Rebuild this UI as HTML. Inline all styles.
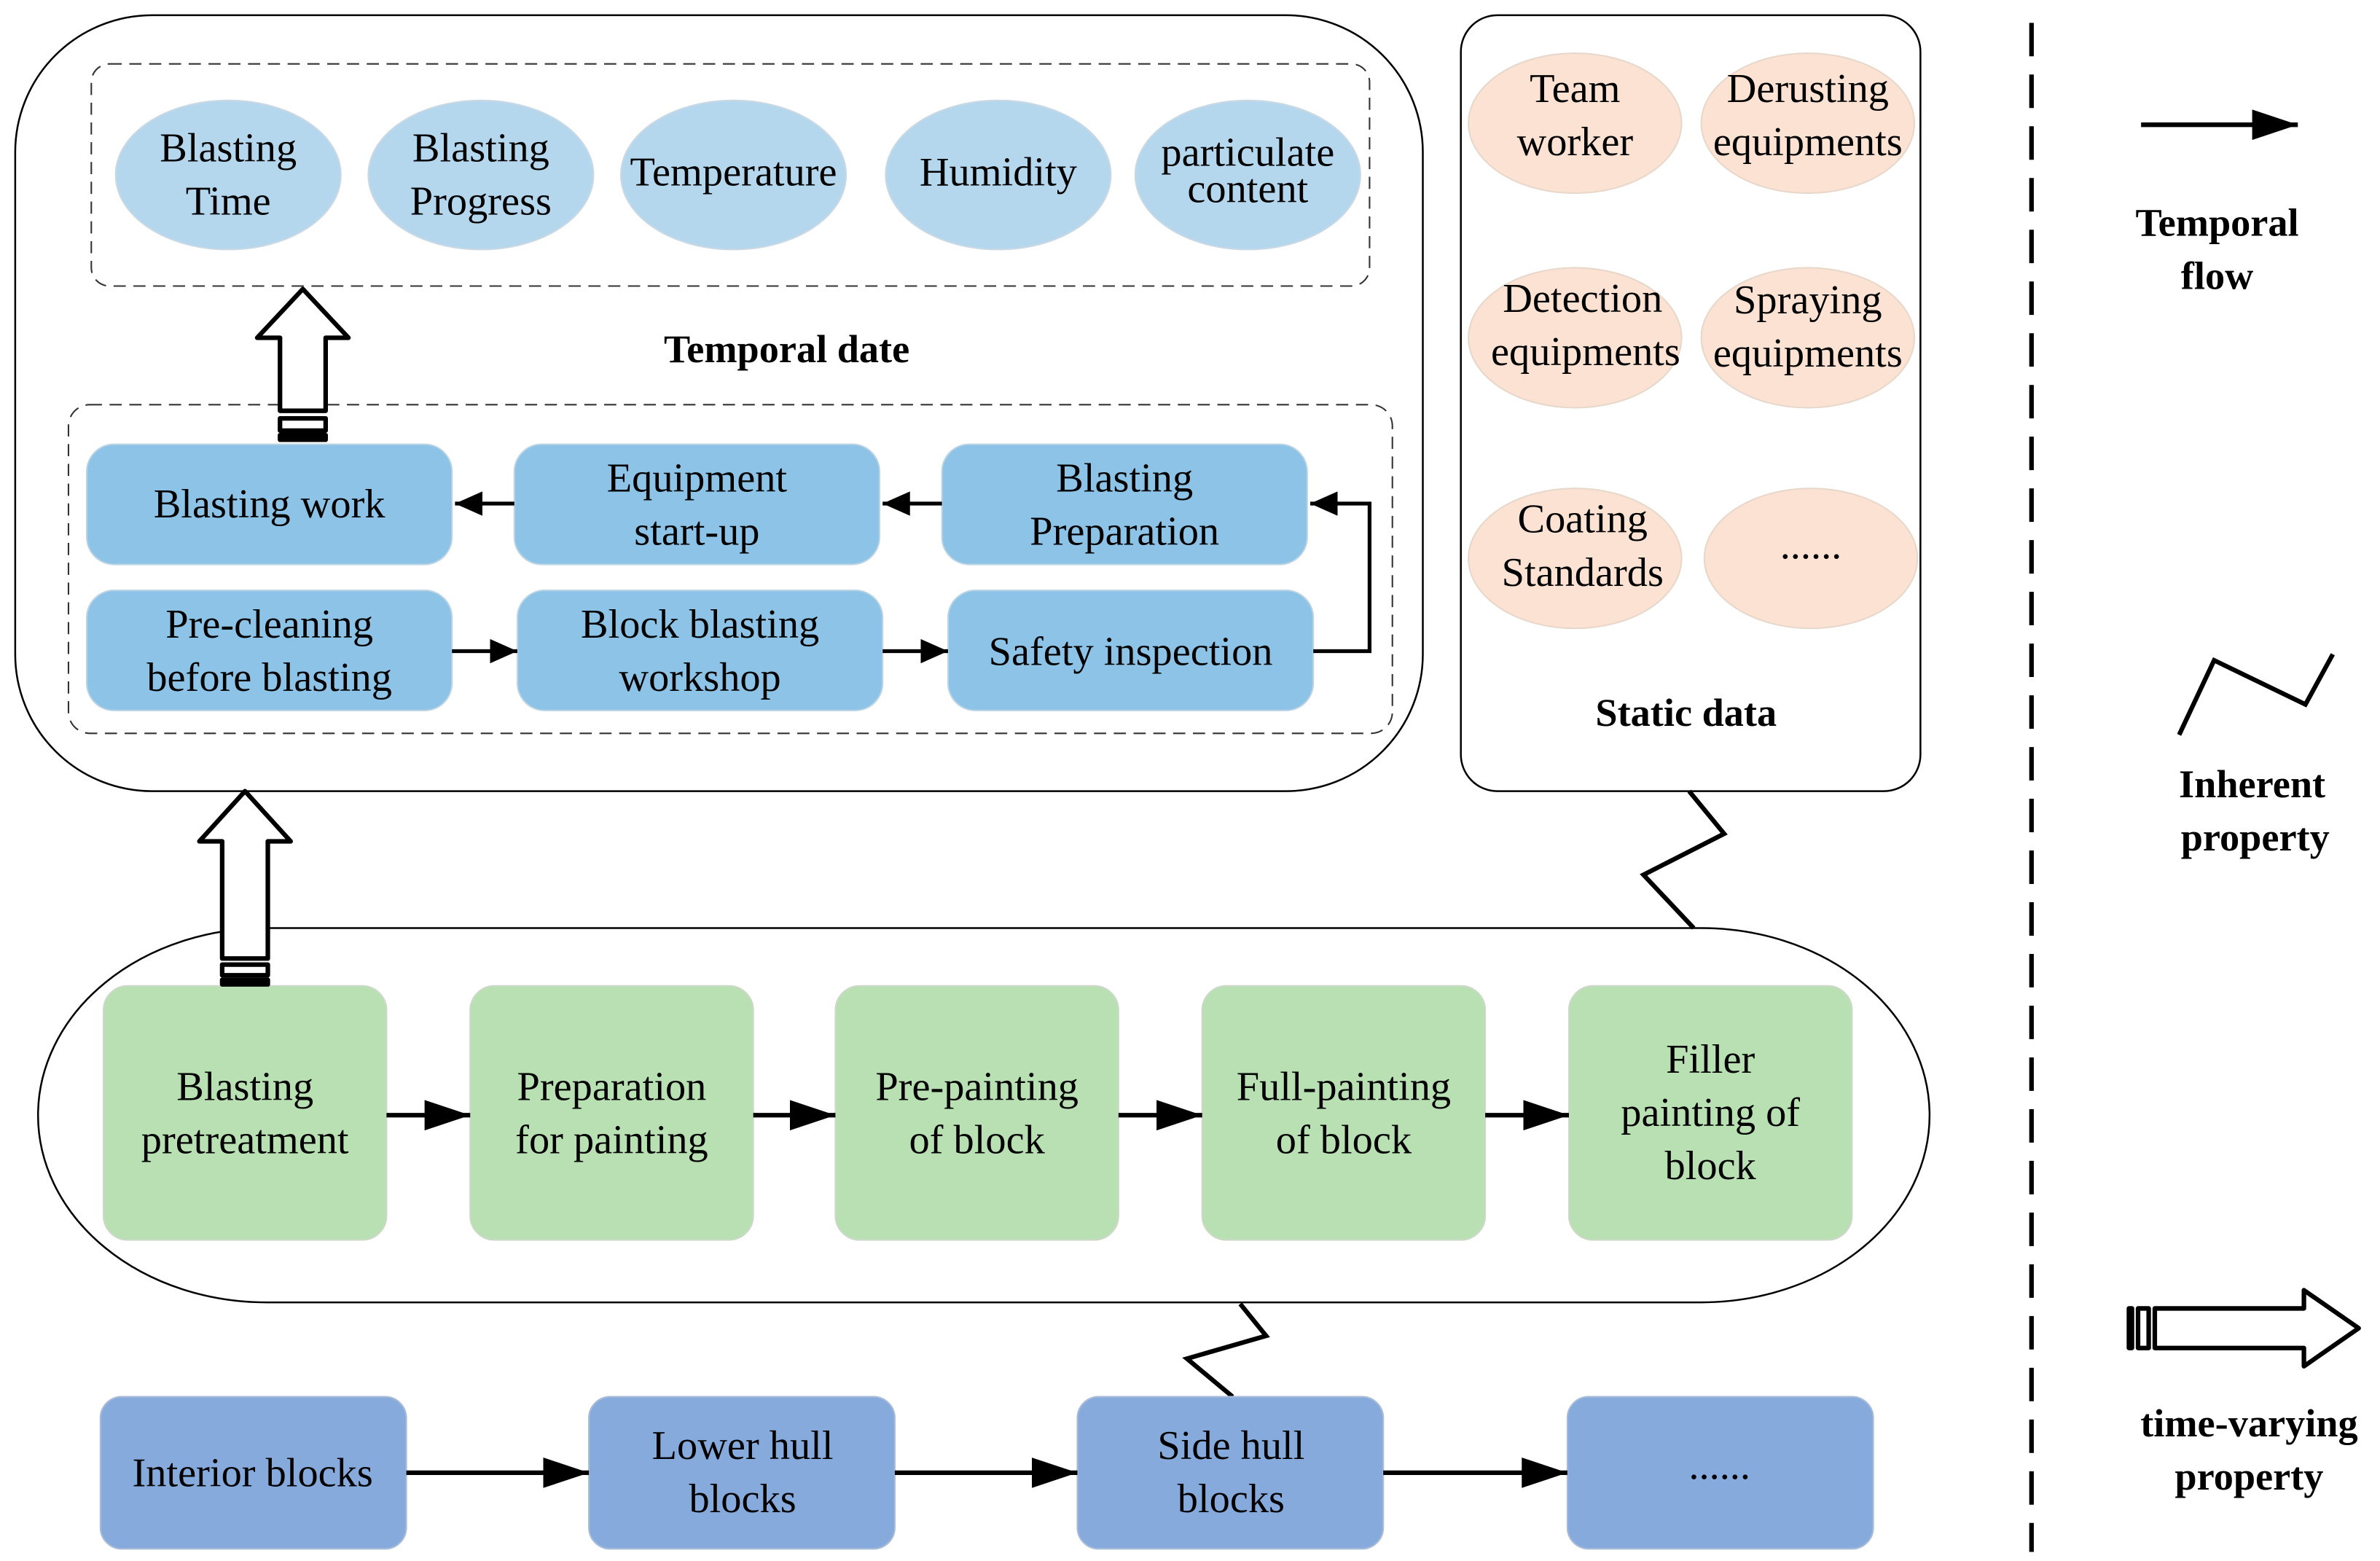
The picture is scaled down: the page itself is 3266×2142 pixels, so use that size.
<!DOCTYPE html>
<html><head><meta charset="utf-8"><style>
html,body{margin:0;padding:0;background:#fff;}
svg{display:block;}
svg text{font-family:"Liberation Serif","Times New Roman","DejaVu Serif",serif;fill:#000;}
.t{font-size:27px;text-anchor:middle;}
.b{font-size:26px;font-weight:bold;text-anchor:middle;}
</style></head><body>
<svg width="3266" height="2142" viewBox="0 0 1564 1026" preserveAspectRatio="none" xmlns="http://www.w3.org/2000/svg" font-family="Liberation Serif, serif">
<defs>
<marker id="ah2" markerWidth="30" markerHeight="20" refX="30" refY="10" orient="auto" markerUnits="userSpaceOnUse" viewBox="0 0 30 20"><path d="M0,0 L30,10 L0,20 Z" fill="#000"/></marker>
<marker id="ah3" markerWidth="18" markerHeight="16" refX="18" refY="8" orient="auto" markerUnits="userSpaceOnUse" viewBox="0 0 18 16"><path d="M0,0 L18,8 L0,16 Z" fill="#000"/></marker>
</defs>
<rect width="1564" height="1026" fill="#fff"/>

<rect x="10" y="10" width="925" height="510" rx="90" ry="90" fill="none" stroke="#000" stroke-width="1.2"/>
<rect x="60" y="42" width="840" height="146" rx="12" fill="none" stroke="#333" stroke-width="1" stroke-dasharray="8,5"/>
<g fill="#b5d7ee" stroke="#c8d8e4" stroke-width="1">
<ellipse cx="150" cy="115" rx="74" ry="49"/>
<ellipse cx="316" cy="115" rx="74" ry="49"/>
<ellipse cx="482" cy="115" rx="74" ry="49"/>
<ellipse cx="656" cy="115" rx="74" ry="49"/>
<ellipse cx="820" cy="115" rx="74" ry="49"/>
</g>
<text class="t" x="150" y="106">Blasting</text><text class="t" x="150" y="141">Time</text>
<text class="t" x="316" y="106">Blasting</text><text class="t" x="316" y="141">Progress</text>
<text class="t" x="482" y="122">Temperature</text>
<text class="t" x="656" y="122">Humidity</text>
<text class="t" x="820" y="109">particulate</text><text class="t" x="820" y="133">content</text>
<text class="b" x="517" y="238">Temporal date</text>

<rect x="45" y="266" width="870" height="216" rx="14" fill="none" stroke="#333" stroke-width="1" stroke-dasharray="8,5"/>
<g fill="#8cc3e6" stroke="#bcd4e4" stroke-width="1">
<rect x="57" y="292" width="240" height="79" rx="18"/>
<rect x="338" y="292" width="240" height="79" rx="18"/>
<rect x="619" y="292" width="240" height="79" rx="18"/>
<rect x="57" y="388" width="240" height="79" rx="18"/>
<rect x="340" y="388" width="240" height="79" rx="18"/>
<rect x="623" y="388" width="240" height="79" rx="18"/>
</g>
<text class="t" x="177" y="340">Blasting work</text>
<text class="t" x="458" y="323">Equipment</text><text class="t" x="458" y="358">start-up</text>
<text class="t" x="739" y="323">Blasting</text><text class="t" x="739" y="358">Preparation</text>
<text class="t" x="177" y="419">Pre-cleaning</text><text class="t" x="177" y="454">before blasting</text>
<text class="t" x="460" y="419">Block blasting</text><text class="t" x="460" y="454">workshop</text>
<text class="t" x="743" y="437">Safety inspection</text>
<g stroke="#000" stroke-width="2.5" fill="none">
<line x1="338" y1="331" x2="299" y2="331" marker-end="url(#ah3)"/>
<line x1="619" y1="331" x2="580" y2="331" marker-end="url(#ah3)"/>
<line x1="297" y1="428" x2="340" y2="428" marker-end="url(#ah3)"/>
<line x1="580" y1="428" x2="623" y2="428" marker-end="url(#ah3)"/>
<polyline points="863,428 900,428 900,331 861,331" marker-end="url(#ah3)"/>
</g>
<g stroke="#000" stroke-width="3" fill="#fff" stroke-linejoin="round">
<path d="M184,270 L184,222 L169,222 L199,190 L229,222 L214,222 L214,270 Z"/>
<rect x="184" y="275" width="30" height="8"/>
<rect x="184" y="286" width="30" height="3"/>
</g>

<rect x="960" y="10" width="302" height="510" rx="24" fill="none" stroke="#000" stroke-width="1.2"/>
<g fill="#fbe2d2" stroke="#e8d8cc" stroke-width="1">
<ellipse cx="1035" cy="81" rx="70" ry="46"/>
<ellipse cx="1188" cy="81" rx="70" ry="46"/>
<ellipse cx="1035" cy="222" rx="70" ry="46"/>
<ellipse cx="1188" cy="222" rx="70" ry="46"/>
<ellipse cx="1035" cy="367" rx="70" ry="46"/>
<ellipse cx="1190" cy="367" rx="70" ry="46"/>
</g>
<text class="t" x="1035" y="67">Team</text><text class="t" x="1035" y="102">worker</text>
<text class="t" x="1188" y="67">Derusting</text><text class="t" x="1188" y="102">equipments</text>
<text class="t" x="1040" y="205">Detection</text><text class="t" x="1042" y="240">equipments</text>
<text class="t" x="1188" y="206">Spraying</text><text class="t" x="1188" y="241">equipments</text>
<text class="t" x="1040" y="350">Coating</text><text class="t" x="1040" y="385">Standards</text>
<text class="t" x="1190" y="367">......</text>
<text class="b" x="1108" y="477">Static data</text>

<polyline points="1113,610 1080,575 1133,548 1110,520" fill="none" stroke="#000" stroke-width="3"/>

<rect x="25" y="610" width="1243" height="246" rx="150" ry="123" fill="none" stroke="#000" stroke-width="1.2"/>
<g fill="#b9e0b2" stroke="#ccd8c8" stroke-width="1">
<rect x="68" y="648" width="186" height="167" rx="16"/>
<rect x="309" y="648" width="186" height="167" rx="16"/>
<rect x="549" y="648" width="186" height="167" rx="16"/>
<rect x="790" y="648" width="186" height="167" rx="16"/>
<rect x="1031" y="648" width="186" height="167" rx="16"/>
</g>
<text class="t" x="161" y="723">Blasting</text><text class="t" x="161" y="758">pretreatment</text>
<text class="t" x="402" y="723">Preparation</text><text class="t" x="402" y="758">for painting</text>
<text class="t" x="642" y="723">Pre-painting</text><text class="t" x="642" y="758">of block</text>
<text class="t" x="883" y="723">Full-painting</text><text class="t" x="883" y="758">of block</text>
<text class="t" x="1124" y="705">Filler</text><text class="t" x="1124" y="740">painting of</text><text class="t" x="1124" y="775">block</text>
<g stroke="#000" stroke-width="3" fill="none">
<line x1="254" y1="733" x2="309" y2="733" marker-end="url(#ah2)"/>
<line x1="495" y1="733" x2="549" y2="733" marker-end="url(#ah2)"/>
<line x1="735" y1="733" x2="790" y2="733" marker-end="url(#ah2)"/>
<line x1="976" y1="733" x2="1031" y2="733" marker-end="url(#ah2)"/>
</g>
<g stroke="#000" stroke-width="3" fill="#fff" stroke-linejoin="round">
<path d="M146,630 L146,553 L131,553 L161,520 L191,553 L176,553 L176,630 Z"/>
<rect x="146" y="634" width="30" height="7"/>
<rect x="146" y="644" width="30" height="3"/>
</g>

<polyline points="810,918 780,893 832,878 815,857" fill="none" stroke="#000" stroke-width="3"/>

<g fill="#87aadd" stroke="#a8bcd8" stroke-width="1">
<rect x="66" y="918" width="201" height="100" rx="14"/>
<rect x="387" y="918" width="201" height="100" rx="14"/>
<rect x="708" y="918" width="201" height="100" rx="14"/>
<rect x="1030" y="918" width="201" height="100" rx="14"/>
</g>
<text class="t" x="166" y="977">Interior blocks</text>
<text class="t" x="488" y="959">Lower hull</text><text class="t" x="488" y="994">blocks</text>
<text class="t" x="809" y="959">Side hull</text><text class="t" x="809" y="994">blocks</text>
<text class="t" x="1130" y="972">......</text>
<g stroke="#000" stroke-width="3" fill="none">
<line x1="267" y1="968" x2="387" y2="968" marker-end="url(#ah2)"/>
<line x1="588" y1="968" x2="708" y2="968" marker-end="url(#ah2)"/>
<line x1="909" y1="968" x2="1030" y2="968" marker-end="url(#ah2)"/>
</g>

<line x1="1335" y1="15" x2="1335" y2="1020" stroke="#000" stroke-width="3" stroke-dasharray="22,12"/>
<line x1="1407" y1="82" x2="1510" y2="82" stroke="#000" stroke-width="3" marker-end="url(#ah2)"/>
<text class="b" x="1457" y="155">Temporal</text><text class="b" x="1457" y="190">flow</text>
<polyline points="1432,483 1455,434 1515,463 1533,430" fill="none" stroke="#000" stroke-width="3"/>
<text class="b" x="1480" y="524">Inherent</text><text class="b" x="1482" y="559">property</text>
<g stroke="#000" stroke-width="3" fill="#fff" stroke-linejoin="round">
<path d="M1416,860 L1514,860 L1514,848 L1550,873 L1514,898 L1514,886 L1416,886 Z"/>
<rect x="1405" y="860" width="7" height="26"/>
<rect x="1399" y="860" width="2" height="26"/>
</g>
<text class="b" x="1478" y="944">time-varying</text><text class="b" x="1478" y="979">property</text>
</svg>
</body></html>
